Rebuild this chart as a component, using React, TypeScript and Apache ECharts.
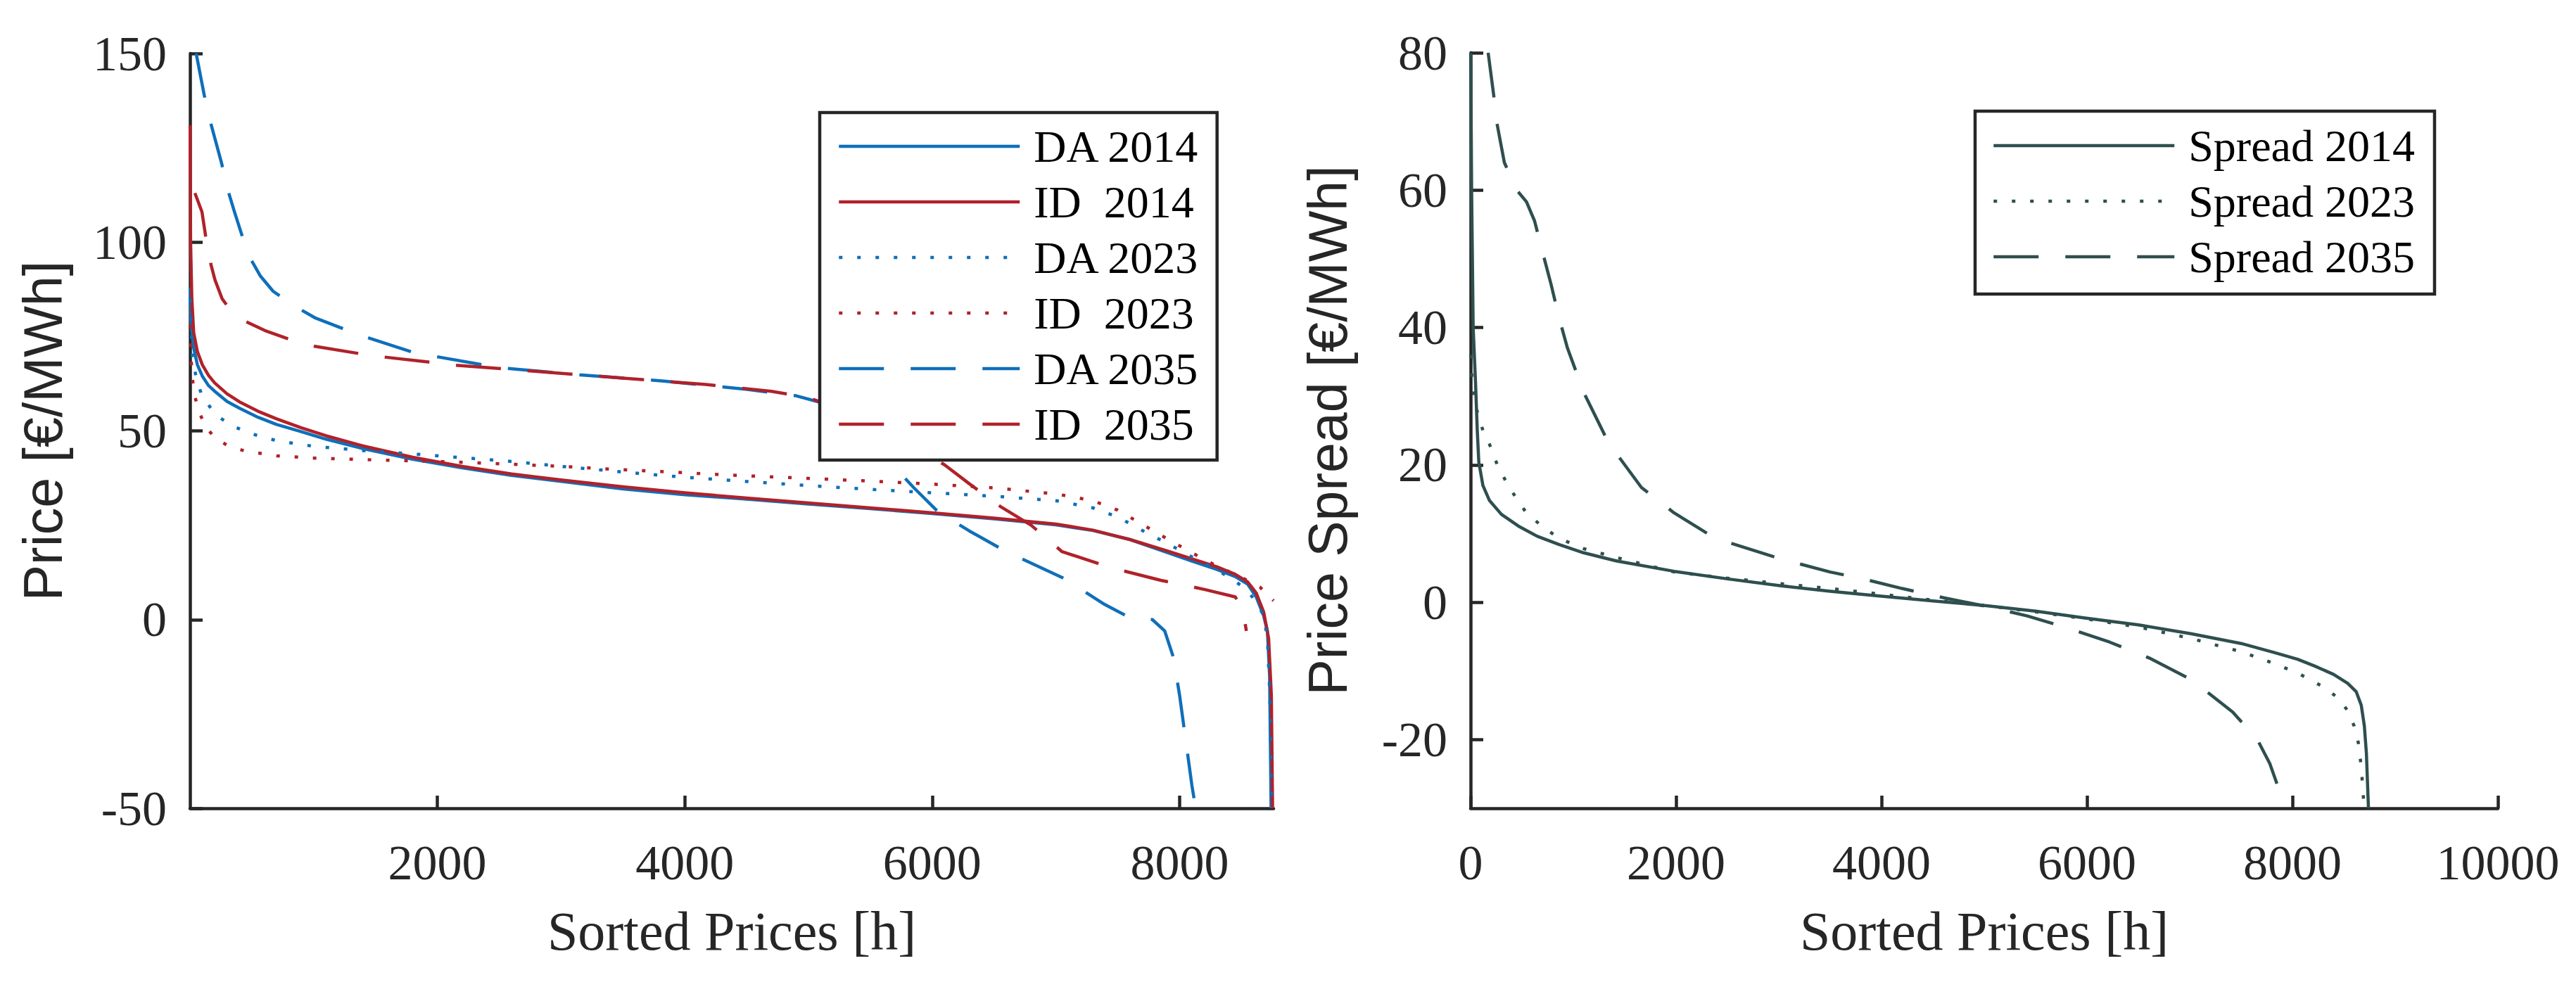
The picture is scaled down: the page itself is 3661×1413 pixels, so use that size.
import React, { useEffect, useRef } from "react";
import * as echarts from "echarts";

// ---------- data ----------
const LEFT_X_TICKS = [2000, 4000, 6000, 8000];
const RIGHT_Y_TICKS = [-20, 0, 20, 40, 60, 80];

const LEFT_NAMES = ["DA 2014", "ID  2014", "DA 2023", "ID  2023", "DA 2035", "ID  2035"];
const RIGHT_NAMES = ["Spread 2014", "Spread 2023", "Spread 2035"];

const DA_2014: [number, number][] = [
  [1, 88], [10, 78], [30, 72], [60, 67.5], [100, 64.5], [150, 62], [200, 60.5], [300, 57.8],
  [400, 56], [550, 53.6], [700, 51.7], [900, 49.8], [1100, 47.8], [1400, 45.3], [1800, 42.5],
  [2200, 40.2], [2600, 38.2], [3000, 36.6], [3500, 34.6], [4000, 33.1], [4500, 31.9],
  [5000, 30.6], [5500, 29.4], [6000, 28.1], [6500, 26.7], [7000, 25.1], [7300, 23.6],
  [7600, 21.2], [7900, 17.8], [8100, 15.5], [8300, 13.3], [8450, 11.4], [8550, 9.4],
  [8620, 6], [8680, 1], [8710, -3], [8728, -15], [8740, -50],
];
const ID_2014: [number, number][] = [
  [1, 131], [5, 100], [15, 85], [30, 76], [60, 71], [100, 67.5], [150, 64.7], [200, 62.7],
  [300, 59.8], [400, 57.7], [550, 55.2], [700, 53.2], [900, 50.8], [1100, 48.7], [1400, 46],
  [1800, 43], [2200, 40.6], [2600, 38.6], [3000, 37], [3500, 35.2], [4000, 33.6], [4500, 32.2],
  [5000, 30.9], [5500, 29.6], [6000, 28.3], [6500, 26.9], [7000, 25.3], [7300, 23.7],
  [7600, 21.2], [7900, 18.2], [8100, 16.1], [8300, 14], [8450, 12], [8550, 10], [8620, 7],
  [8680, 2], [8720, -5], [8742, -20], [8752, -50],
];
const DA_2023: [number, number][] = [
  [1, 85], [20, 70], [50, 64], [100, 59], [170, 56], [250, 53.3], [350, 51.2], [500, 49.2],
  [700, 47.4], [1000, 45.9], [1400, 44.8], [1800, 43.9], [2200, 42.9], [2600, 41.9],
  [3000, 40.6], [3500, 39.1], [4000, 37.7], [4500, 36.6], [5000, 35.5], [5500, 34.5],
  [6000, 33.6], [6500, 32.7], [7000, 31.5], [7300, 29.6], [7500, 27.2], [7700, 23.6],
  [7900, 20.2], [8100, 16.6], [8300, 13.2], [8450, 10.2], [8550, 7.6], [8630, 4.2],
  [8680, 1], [8710, -5], [8730, -20], [8745, -50],
];
const ID_2023: [number, number][] = [
  [1, 78], [15, 65], [40, 59], [80, 54.5], [130, 51], [200, 48.2], [300, 46.2], [450, 44.6],
  [700, 43.4], [1000, 42.8], [1500, 42.3], [2000, 41.9], [2500, 41.3], [3000, 40.6],
  [3500, 39.7], [4000, 38.9], [4500, 38.1], [5000, 37.4], [5500, 36.7], [6000, 35.9],
  [6500, 34.9], [7000, 33.3], [7300, 31.5], [7500, 29], [7700, 25.2], [7900, 21.4],
  [8100, 17.7], [8300, 14.2], [8500, 11.2], [8650, 8.6], [8760, 5],
];
const DA_2035: [number, number][] = [
  [50, 150], [115, 139], [160, 132.5], [255, 121], [300, 114.5], [360, 108], [470, 96.7],
  [570, 91], [672, 87], [850, 83], [1008, 80], [1345, 75.7], [1815, 70.7], [2487, 66.8],
  [3160, 64.8], [3832, 63.2], [4504, 61], [4900, 59.3], [5180, 56.8], [5350, 53],
  [5500, 48], [5650, 42], [5850, 35], [6050, 28.5], [6300, 23.5], [6600, 18], [7060, 11],
  [7395, 4], [7600, 0.5], [7780, 0], [7880, -3], [7950, -10], [8000, -20], [8050, -32],
  [8100, -44], [8130, -50],
];
const ID_2035: [number, number][] = [
  [40, 113], [97, 108], [134, 100], [170, 94], [202, 90], [260, 85], [336, 81.6], [450, 79],
  [605, 76.6], [800, 74.3], [1008, 72.4], [1479, 69.9], [2151, 67.4], [2824, 65.7],
  [3496, 64], [4168, 62.3], [4700, 60.5], [5000, 58.8], [5200, 56.5], [5513, 51.4],
  [5849, 46], [6100, 41], [6300, 36], [6550, 30], [6800, 25], [7050, 18], [7450, 13.7],
  [7850, 10.4], [8200, 8], [8450, 6], [8510, 3], [8530, -1], [8540, -3],
];

const SPREAD_2014: [number, number][] = [
  [1, 80], [10, 60], [25, 40], [48, 32], [65, 25], [80, 20.4], [120, 17], [184, 14.8],
  [300, 12.8], [464, 11.1], [650, 9.6], [863, 8.4], [1100, 7.2], [1423, 6], [1982, 4.5],
  [2500, 3.4], [3022, 2.4], [3500, 1.6], [3981, 0.9], [4500, 0.2], [5020, -0.5],
  [5500, -1.3], [5980, -2.3], [6500, -3.3], [7019, -4.6], [7500, -6], [7818, -7.3],
  [8050, -8.3], [8218, -9.3], [8400, -10.5], [8538, -11.8], [8620, -13], [8670, -15],
  [8700, -18], [8720, -22], [8740, -30],
];
const SPREAD_2023: [number, number][] = [
  [1, 36], [15, 32], [40, 29], [64, 27.8], [120, 25], [184, 23], [260, 20], [344, 17.6],
  [450, 15], [544, 13], [700, 11], [863, 9.3], [1100, 7.8], [1423, 6.5], [1982, 4.4],
  [2500, 3.5], [3022, 2.7], [3500, 2], [3981, 1.2], [4500, 0.3], [5020, -0.5],
  [5500, -1.4], [5980, -2.4], [6500, -3.6], [7019, -5.3], [7500, -7.2], [7818, -8.9],
  [8050, -10.3], [8298, -12.3], [8450, -14], [8538, -15.8], [8600, -18], [8642, -20.5],
  [8670, -24], [8698, -30],
];
const SPREAD_2035: [number, number][] = [
  [171, 80], [226, 73.7], [253, 70], [329, 64], [450, 60], [544, 58.3], [623, 55.5],
  [700, 51], [783, 46.3], [860, 41.5], [943, 37], [1103, 30.5], [1343, 23.2], [1663, 16.7],
  [1982, 13], [2382, 9.3], [3022, 6.3], [3500, 4.4], [3821, 3.4], [4200, 2], [4621, 0.6],
  [5020, -0.6], [5420, -2], [5820, -3.8], [6220, -5.8], [6619, -8.2], [7019, -11.3],
  [7419, -16], [7659, -20], [7780, -23.5], [7858, -26.8], [7898, -30],
];

// ---------- styles ----------
const BLUE = "#0f6fba";
const RED = "#b0222a";
const DARK = "#2f4f4f";
const AXIS = "#262626";
const LW = 4.5;
const DOT = [5, 21];
const DASH = [64, 38];
const SERIF = "'Liberation Serif', 'Times New Roman', serif";
const SANS = "'Liberation Sans', Arial, sans-serif";
const plain = (v: number) => String(v);

function lineSeries(name: string, data: [number, number][], color: string, type: any, idx: number) {
  return {
    name,
    type: "line",
    xAxisIndex: idx,
    yAxisIndex: idx,
    data,
    symbol: "none",
    showSymbol: false,
    clip: true,
    color,
    lineStyle: { color, width: LW, type, cap: "butt", join: "round" },
    emphasis: { disabled: true },
  };
}

function axisCommon() {
  return {
    axisLine: { show: true, onZero: false, lineStyle: { color: AXIS, width: LW } },
    axisTick: { show: true, inside: true, length: 18, lineStyle: { color: AXIS, width: LW } },
    splitLine: { show: false },
  };
}

function legendCommon(names: string[], left: number, top: number, padding: number[]) {
  return {
    show: true,
    orient: "vertical",
    left,
    top,
    data: names,
    itemWidth: 257,
    itemHeight: 20,
    itemGap: 15,
    padding,
    borderColor: AXIS,
    borderWidth: LW,
    borderRadius: 0,
    backgroundColor: "#ffffff",
    selectedMode: false,
    textStyle: { fontFamily: SERIF, fontSize: 64, color: "#000", lineHeight: 64, padding: [0, 0, 0, 15] },
    lineStyle: { width: LW },
    itemStyle: { opacity: 0, borderWidth: 0 },
  };
}

export default function App() {
  const ref = useRef<HTMLDivElement>(null);
  useEffect(() => {
    document.body.style.margin = "0";
    if (!ref.current) return;
    const chart = echarts.init(ref.current, undefined, { renderer: "svg" });
    const labelStyle = { fontFamily: SERIF, fontSize: 70, color: AXIS, formatter: plain };
    chart.setOption({
      animation: false,
      backgroundColor: "#ffffff",
      grid: [
        { left: 270, top: 76, width: 1540, height: 1073 },
        { left: 2090, top: 75, width: 1460, height: 1074 },
      ],
      xAxis: [
        {
          gridIndex: 0, type: "value", min: 0, max: 8760,
          ...axisCommon(),
          axisTick: { show: true, inside: true, length: 18, lineStyle: { color: AXIS, width: LW }, customValues: LEFT_X_TICKS },
          axisLabel: { ...labelStyle, margin: 42, customValues: LEFT_X_TICKS },
          name: "Sorted Prices [h]", nameLocation: "middle", nameGap: 135,
          nameTextStyle: { fontFamily: SERIF, fontSize: 78, color: AXIS },
        },
        {
          gridIndex: 1, type: "value", min: 0, max: 10000, interval: 2000,
          ...axisCommon(),
          axisLabel: { ...labelStyle, margin: 42 },
          name: "Sorted Prices [h]", nameLocation: "middle", nameGap: 135,
          nameTextStyle: { fontFamily: SERIF, fontSize: 78, color: AXIS },
        },
      ],
      yAxis: [
        {
          gridIndex: 0, type: "value", min: -50, max: 150, interval: 50,
          ...axisCommon(),
          axisLabel: { ...labelStyle, margin: 33 },
          name: "Price [€/MWh]", nameLocation: "middle", nameGap: 171, nameRotate: 90,
          nameTextStyle: { fontFamily: SANS, fontSize: 77, color: AXIS },
        },
        {
          gridIndex: 1, type: "value", min: -30, max: 80,
          ...axisCommon(),
          axisTick: { show: true, inside: true, length: 18, lineStyle: { color: AXIS, width: LW }, customValues: RIGHT_Y_TICKS },
          axisLabel: { ...labelStyle, margin: 33, customValues: RIGHT_Y_TICKS },
          name: "Price Spread [€/MWh]", nameLocation: "middle", nameGap: 165, nameRotate: 90,
          nameTextStyle: { fontFamily: SANS, fontSize: 77, color: AXIS },
        },
      ],
      legend: [
        legendCommon(LEFT_NAMES, 1165, 160, [16, 24, 19, 25]),
        legendCommon(RIGHT_NAMES, 2807, 158, [17, 28, 21, 24]),
      ],
      series: [
        lineSeries(LEFT_NAMES[0], DA_2014, BLUE, "solid", 0),
        lineSeries(LEFT_NAMES[1], ID_2014, RED, "solid", 0),
        lineSeries(LEFT_NAMES[2], DA_2023, BLUE, DOT, 0),
        lineSeries(LEFT_NAMES[3], ID_2023, RED, DOT, 0),
        lineSeries(LEFT_NAMES[4], DA_2035, BLUE, DASH, 0),
        lineSeries(LEFT_NAMES[5], ID_2035, RED, DASH, 0),
        lineSeries(RIGHT_NAMES[0], SPREAD_2014, DARK, "solid", 1),
        lineSeries(RIGHT_NAMES[1], SPREAD_2023, DARK, DOT, 1),
        lineSeries(RIGHT_NAMES[2], SPREAD_2035, DARK, DASH, 1),
      ],
    });
    return () => chart.dispose();
  }, []);
  return (
    <div
      ref={ref}
      style={{ position: "absolute", left: 0, top: 0, width: "3661px", height: "1413px", background: "#fff" }}
    />
  );
}
